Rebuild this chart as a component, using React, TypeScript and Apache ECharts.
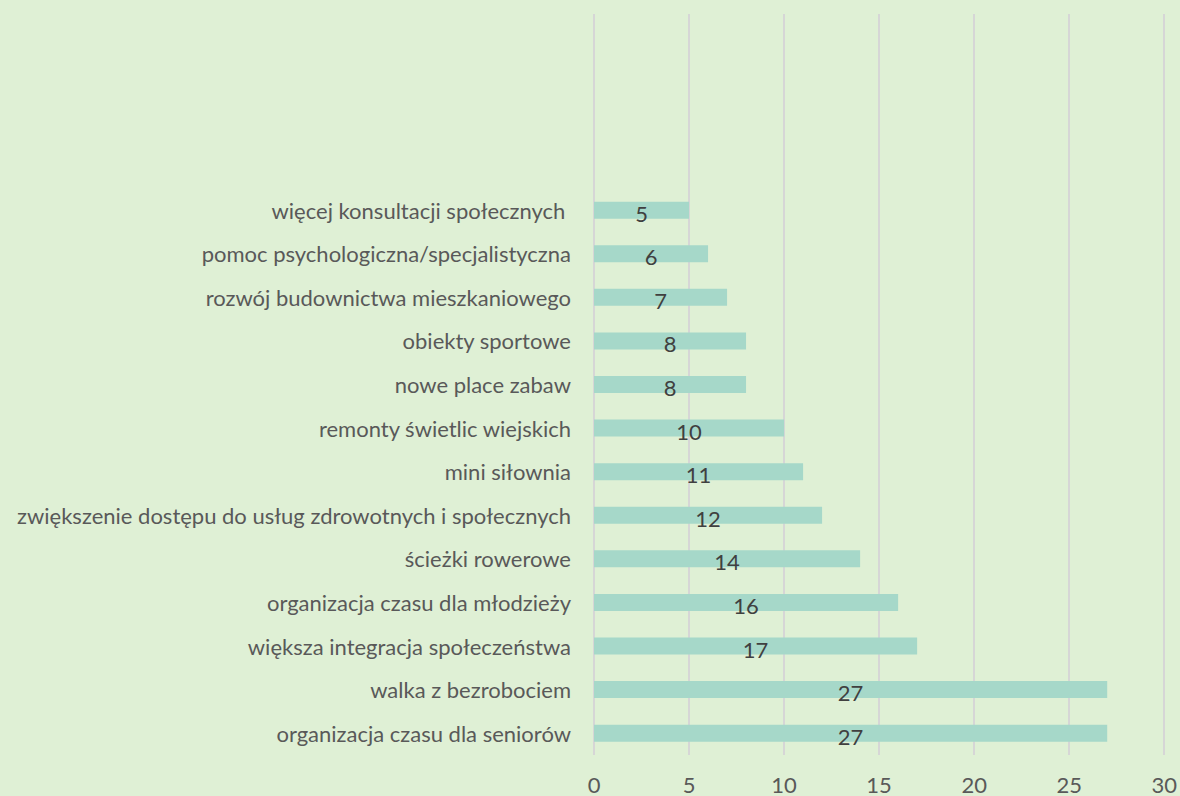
import React, { useEffect, useRef } from "react";
import * as echarts from "echarts";

const categories = [
  "organizacja czasu dla seniorów",
  "walka z bezrobociem",
  "większa integracja społeczeństwa",
  "organizacja czasu dla młodzieży",
  "ścieżki rowerowe",
  "zwiększenie dostępu do usług zdrowotnych i społecznych",
  "mini siłownia",
  "remonty świetlic wiejskich",
  "nowe place zabaw",
  "obiekty sportowe",
  "rozwój budownictwa mieszkaniowego",
  "pomoc psychologiczna/specjalistyczna",
  "więcej konsultacji społecznych ",
  " ",
  "  ",
  "   ",
  "    ",
];

const values = [27, 27, 17, 16, 14, 12, 11, 10, 8, 8, 7, 6, 5];

const xTicks = { min: 0, max: 30, interval: 5 };

export default function App() {
  const ref = useRef<HTMLDivElement>(null);
  useEffect(() => {
    if (!ref.current) return;
    const chart = echarts.init(ref.current, undefined, { renderer: "svg" });
    const font = "Lato, 'Open Sans', sans-serif";
    chart.setOption({
      animation: false,
      backgroundColor: "#DFF0D5",
      grid: { left: 594, right: 15, top: 14, bottom: 41, containLabel: false },
      xAxis: {
        type: "value",
        min: xTicks.min,
        max: xTicks.max,
        interval: xTicks.interval,
        axisLine: { show: false },
        axisTick: { show: false },
        splitLine: { show: true, lineStyle: { color: "#D6D6D6", width: 2 } },
        axisLabel: { color: "#595959", fontSize: 22, fontFamily: font, margin: 18 },
      },
      yAxis: {
        type: "category",
        data: categories,
        axisLine: { show: false },
        axisTick: { show: false },
        splitLine: { show: false },
        axisLabel: { color: "#595959", fontSize: 22, fontFamily: font, margin: 23, interval: 0 },
      },
      series: [
        {
          type: "bar",
          data: values,
          barWidth: 17,
          itemStyle: { color: "#A6D8C9" },
          label: {
            show: true,
            position: "inside",
            color: "#404040",
            fontSize: 22,
            fontFamily: font,
            offset: [0, 3],
          },
        },
      ],
    });
    return () => chart.dispose();
  }, []);
  return <div ref={ref} style={{ width: 1180, height: 796, position: "absolute", left: 0, top: 0 }} />;
}
